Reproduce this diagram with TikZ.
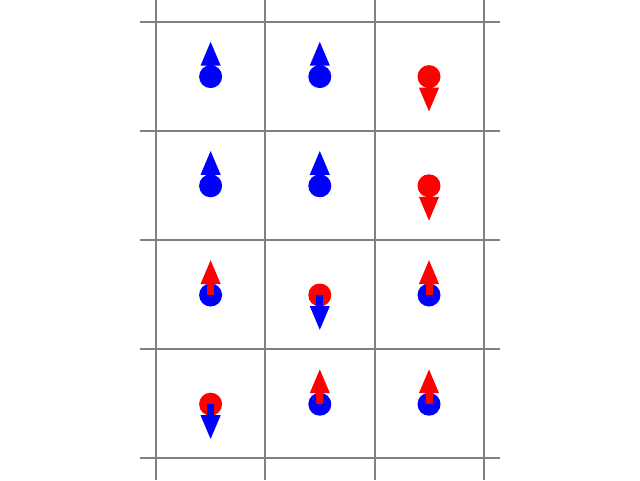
\documentclass[tikz,border=0pt]{standalone}
\usepackage{tikz}
\usetikzlibrary{arrows.meta}

\begin{document}
\begin{tikzpicture}[x=1pt,y=-1pt,
  gridline/.style={gray,line width=2pt},
  spin/.style={line width=7pt,-{Triangle[length=25pt,width=18pt]}}]
\useasboundingbox(0,0)rectangle(640,480);
% lattice lines
\foreach \y in {22,131,240,349,458}
  \draw[gridline](140,\y)--(500,\y);
\foreach \x in {156,265,375,484}
  \draw[gridline](\x,0)--(\x,480);
% sites: column/row/site colour/spin colour/length
\foreach \i/\j/\dc/\ac/\len in {0/0/blue/blue/-36,1/0/blue/blue/-36,2/0/red/red/36,
  0/1/blue/blue/-36,1/1/blue/blue/-36,2/1/red/red/36,
  0/2/blue/red/-36,1/2/red/blue/36,2/2/blue/red/-36,
  0/3/red/blue/36,1/3/blue/red/-36,2/3/blue/red/-36}
{
  \fill[\dc](210.6+109.2*\i,76.6+109.2*\j)circle(11.5);
  \draw[spin,\ac](210.6+109.2*\i,76.6+109.2*\j)--++(0,\len);
}
\end{tikzpicture}
\end{document}
